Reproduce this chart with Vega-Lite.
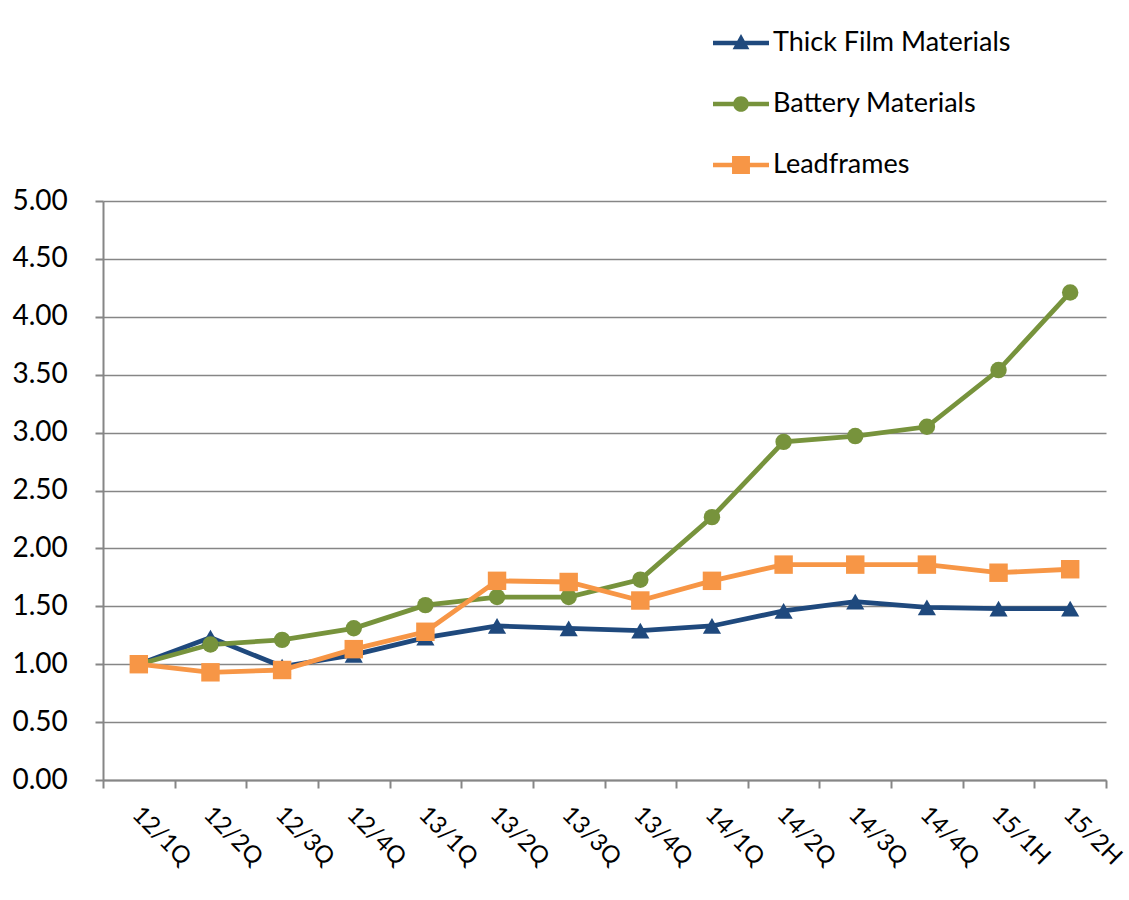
{
  "$schema": "https://vega.github.io/schema/vega-lite/v6.json",
  "width": 1003,
  "height": 579,
  "autosize": {"type": "none"},
  "padding": {"left": 103, "top": 201, "right": 23, "bottom": 120},
  "background": "white",
  "config": {
    "font": "Lato",
    "view": {"stroke": null},
    "axis": {"labelFont": "Lato", "labelColor": "black", "domainColor": "#868686", "tickColor": "#868686", "gridColor": "#868686", "domainWidth": 2, "tickWidth": 2, "gridWidth": 1.5}
  },
  "data": {
    "values": [
      {"q": "12/1Q", "s": "Thick Film Materials", "v": 1.00},
      {"q": "12/2Q", "s": "Thick Film Materials", "v": 1.23},
      {"q": "12/3Q", "s": "Thick Film Materials", "v": 0.98},
      {"q": "12/4Q", "s": "Thick Film Materials", "v": 1.08},
      {"q": "13/1Q", "s": "Thick Film Materials", "v": 1.23},
      {"q": "13/2Q", "s": "Thick Film Materials", "v": 1.33},
      {"q": "13/3Q", "s": "Thick Film Materials", "v": 1.31},
      {"q": "13/4Q", "s": "Thick Film Materials", "v": 1.29},
      {"q": "14/1Q", "s": "Thick Film Materials", "v": 1.33},
      {"q": "14/2Q", "s": "Thick Film Materials", "v": 1.46},
      {"q": "14/3Q", "s": "Thick Film Materials", "v": 1.54},
      {"q": "14/4Q", "s": "Thick Film Materials", "v": 1.49},
      {"q": "15/1H", "s": "Thick Film Materials", "v": 1.48},
      {"q": "15/2H", "s": "Thick Film Materials", "v": 1.48},
      {"q": "12/1Q", "s": "Battery Materials", "v": 1.00},
      {"q": "12/2Q", "s": "Battery Materials", "v": 1.17},
      {"q": "12/3Q", "s": "Battery Materials", "v": 1.21},
      {"q": "12/4Q", "s": "Battery Materials", "v": 1.31},
      {"q": "13/1Q", "s": "Battery Materials", "v": 1.51},
      {"q": "13/2Q", "s": "Battery Materials", "v": 1.58},
      {"q": "13/3Q", "s": "Battery Materials", "v": 1.58},
      {"q": "13/4Q", "s": "Battery Materials", "v": 1.73},
      {"q": "14/1Q", "s": "Battery Materials", "v": 2.27},
      {"q": "14/2Q", "s": "Battery Materials", "v": 2.92},
      {"q": "14/3Q", "s": "Battery Materials", "v": 2.97},
      {"q": "14/4Q", "s": "Battery Materials", "v": 3.05},
      {"q": "15/1H", "s": "Battery Materials", "v": 3.54},
      {"q": "15/2H", "s": "Battery Materials", "v": 4.21},
      {"q": "12/1Q", "s": "Leadframes", "v": 1.00},
      {"q": "12/2Q", "s": "Leadframes", "v": 0.93},
      {"q": "12/3Q", "s": "Leadframes", "v": 0.95},
      {"q": "12/4Q", "s": "Leadframes", "v": 1.13},
      {"q": "13/1Q", "s": "Leadframes", "v": 1.28},
      {"q": "13/2Q", "s": "Leadframes", "v": 1.72},
      {"q": "13/3Q", "s": "Leadframes", "v": 1.71},
      {"q": "13/4Q", "s": "Leadframes", "v": 1.55},
      {"q": "14/1Q", "s": "Leadframes", "v": 1.72},
      {"q": "14/2Q", "s": "Leadframes", "v": 1.86},
      {"q": "14/3Q", "s": "Leadframes", "v": 1.86},
      {"q": "14/4Q", "s": "Leadframes", "v": 1.86},
      {"q": "15/1H", "s": "Leadframes", "v": 1.79},
      {"q": "15/2H", "s": "Leadframes", "v": 1.82}
    ]
  },
  "encoding": {
    "x": {
      "field": "q", "type": "nominal", "sort": null,
      "scale": {"paddingInner": 0, "paddingOuter": 0},
      "axis": {"title": null, "labelAngle": 45, "labelAlign": "left", "labelBaseline": "top", "labelFontSize": 24, "labelPadding": 14, "labelOffset": 5, "tickBand": "extent", "tickSize": 8, "grid": false}
    },
    "y": {
      "field": "v", "type": "quantitative",
      "scale": {"domain": [0, 5], "nice": false},
      "axis": {"title": null, "values": [0, 0.5, 1, 1.5, 2, 2.5, 3, 3.5, 4, 4.5, 5], "format": ".2f", "labelFontSize": 28, "labelAlign": "left", "labelPadding": 83, "tickSize": 8, "grid": true}
    },
    "color": {
      "field": "s", "type": "nominal",
      "scale": {"domain": ["Thick Film Materials", "Battery Materials", "Leadframes"], "range": ["#1F497D", "#77933C", "#F79646"]},
      "legend": {
        "title": null, "orient": "none", "legendX": 610, "legendY": -186, "direction": "vertical",
        "padding": 0, "symbolSize": 3136, "rowPadding": 20, "labelOffset": 4, "labelFontSize": 27, "labelFont": "Lato", "labelColor": "black", "labelLimit": 400,
        "encode": {
          "symbols": {
            "update": {
              "shape": {"signal": "datum.value === 'Thick Film Materials' ? 'M-1,-0.08H1V0.08H-1Z M0,-0.32L0.3,0.22H-0.3Z' : datum.value === 'Battery Materials' ? 'M-1,-0.08H1V0.08H-1Z M0.28,0A0.28,0.28 0 1,1 -0.28,0A0.28,0.28 0 1,1 0.28,0Z' : 'M-1,-0.08H1V0.08H-1Z M-0.32,-0.32H0.32V0.32H-0.32Z'"},
              "fill": {"signal": "scale('color', datum.value)"},
              "fillOpacity": {"value": 1},
              "stroke": {"value": "transparent"},
              "strokeWidth": {"value": 0},
              "size": {"value": 3136}
            }
          }
        }
      }
    }
  },
  "layer": [
    {"mark": {"type": "line", "strokeWidth": 4.8}},
    {
      "transform": [{"filter": "datum.s === 'Thick Film Materials'"}],
      "mark": {"type": "point", "filled": true, "opacity": 1, "shape": "triangle-up", "size": 330}
    },
    {
      "transform": [{"filter": "datum.s === 'Battery Materials'"}],
      "mark": {"type": "point", "filled": true, "opacity": 1, "shape": "circle", "size": 270}
    },
    {
      "transform": [{"filter": "datum.s === 'Leadframes'"}],
      "mark": {"type": "point", "filled": true, "opacity": 1, "shape": "square", "size": 340}
    }
  ]
}
